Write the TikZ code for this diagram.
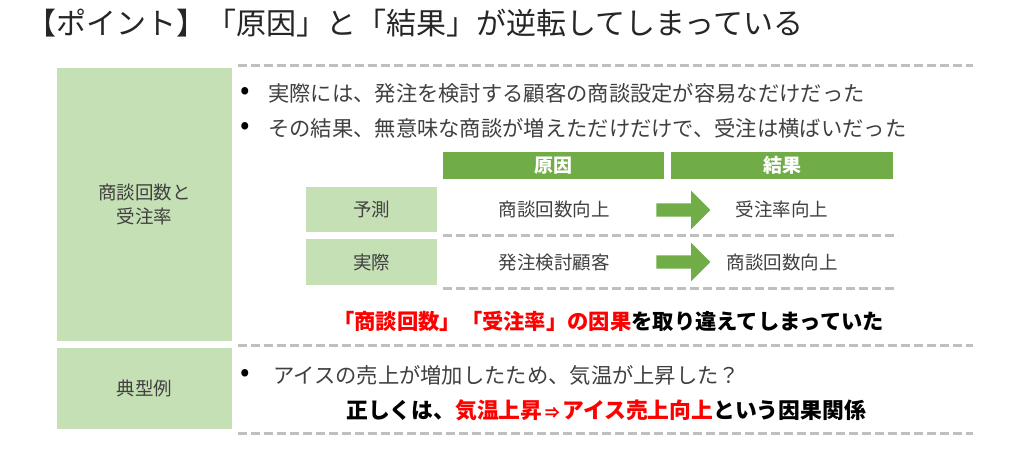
\documentclass[tikz,border=0pt]{standalone}
\usepackage{fontspec}
\setmainfont{Noto Sans CJK JP}
\usetikzlibrary{shapes.arrows}
\definecolor{lgreen}{HTML}{C5E0B4}
\definecolor{hgreen}{HTML}{70AD47}
\definecolor{dgray}{HTML}{BFBFBF}
\definecolor{txt}{HTML}{404040}
\definecolor{rd}{HTML}{FF0000}
\begin{document}
\begin{tikzpicture}[x=1pt,y=-1pt,
 lbox/.style={fill=lgreen,draw=none,inner sep=0pt,text=txt,align=center,anchor=north west,font=\fontsize{18.5}{24}\selectfont},
 hdr/.style={fill=hgreen,draw=none,text=white,inner sep=0pt,anchor=north west,minimum height=27pt,font=\fontsize{19}{19}\selectfont\bfseries},
 dline/.style={draw=dgray,line width=3pt,dash pattern=on 9pt off 4pt},
 body/.style={text=txt,inner sep=0pt,anchor=west,font=\fontsize{21.3}{21.3}\selectfont},
 dot/.style={text=black,inner sep=0pt,font=\fontsize{28}{28}\selectfont},
 cell/.style={text=txt,inner sep=0pt,font=\fontsize{18.5}{18.5}\selectfont},
 bigarrow/.style={single arrow,fill=hgreen,draw=none,inner sep=6.5pt,single arrow head extend=12.5pt,minimum height=54pt,single arrow tip angle=90},
 emphline/.style={inner sep=0pt,anchor=west,text=black,font=\fontsize{21.3}{21.3}\selectfont\bfseries}
]
\useasboundingbox[fill=white] (0,0) rectangle (1024,452);

% title
\node[inner sep=0pt,text=black!85,font=\fontsize{30}{30}\selectfont] (title) at (415,23) {【ポイント】「原因」と「結果」が逆転してしまっている};

% left label boxes
\node[lbox,minimum width=175pt,minimum height=273pt] (box1) at (57,68) {商談回数と\\受注率};
\node[lbox,minimum width=175pt,minimum height=81pt] (box2) at (57,348) {典型例};

% dashed separators
\coordinate (t1) at (238,65);  \coordinate (t2) at (973,65);
\coordinate (m1) at (238,345); \coordinate (m2) at (973,345);
\coordinate (u1) at (238,433); \coordinate (u2) at (973,433);
\coordinate (r1) at (443,235); \coordinate (r2) at (898,235);
\coordinate (s1) at (443,288); \coordinate (s2) at (898,288);
\draw[dline] (t1) -- (t2);
\draw[dline] (m1) -- (m2);
\draw[dline] (u1) -- (u2);
\draw[dline] (r1) -- (r2);
\draw[dline] (s1) -- (s2);

% bullets
\node[dot] (d1) at (245,93) {•};
\node[body] (b1) at (268,93) {実際には、発注を検討する顧客の商談設定が容易なだけだった};
\node[dot] (d2) at (245,128) {•};
\node[body] (b2) at (268,128) {その結果、無意味な商談が増えただけだけで、受注は横ばいだった};

% table headers
\node[hdr,minimum width=221pt] (h1) at (443,152) {原因};
\node[hdr,minimum width=222pt] (h2) at (671,152) {結果};

% row labels
\node[lbox,minimum width=131pt,minimum height=45pt] (p1) at (306,187) {予測};
\node[lbox,minimum width=131pt,minimum height=46pt] (p2) at (306,239) {実際};

% cells
\node[cell] (c1) at (554,209) {商談回数向上};
\node[cell] (c2) at (554,262) {発注検討顧客};
\node[cell] (e1) at (782,209) {受注率向上};
\node[cell] (e2) at (782,262) {商談回数向上};
\node[bigarrow] (a1) at (680,210) {};
\node[bigarrow] (a2) at (680,262) {};

% emphasis line
\node[emphline] (k1) at (333,321) {\textcolor{rd}{「商談回数」「受注率」の因果}を取り違えてしまっていた};

% example section
\node[dot] (d3) at (245,375) {•};
\node[body] (b3) at (273,375) {アイスの売上が増加したため、気温が上昇した？};
\node[emphline,font=\fontsize{21.8}{21.8}\selectfont\bfseries] (k2) at (346,410) {正しくは、\textcolor{rd}{気温上昇{\fontsize{15}{15}\selectfont\,⇒\,}アイス売上向上}という因果関係};
\end{tikzpicture}
\end{document}
